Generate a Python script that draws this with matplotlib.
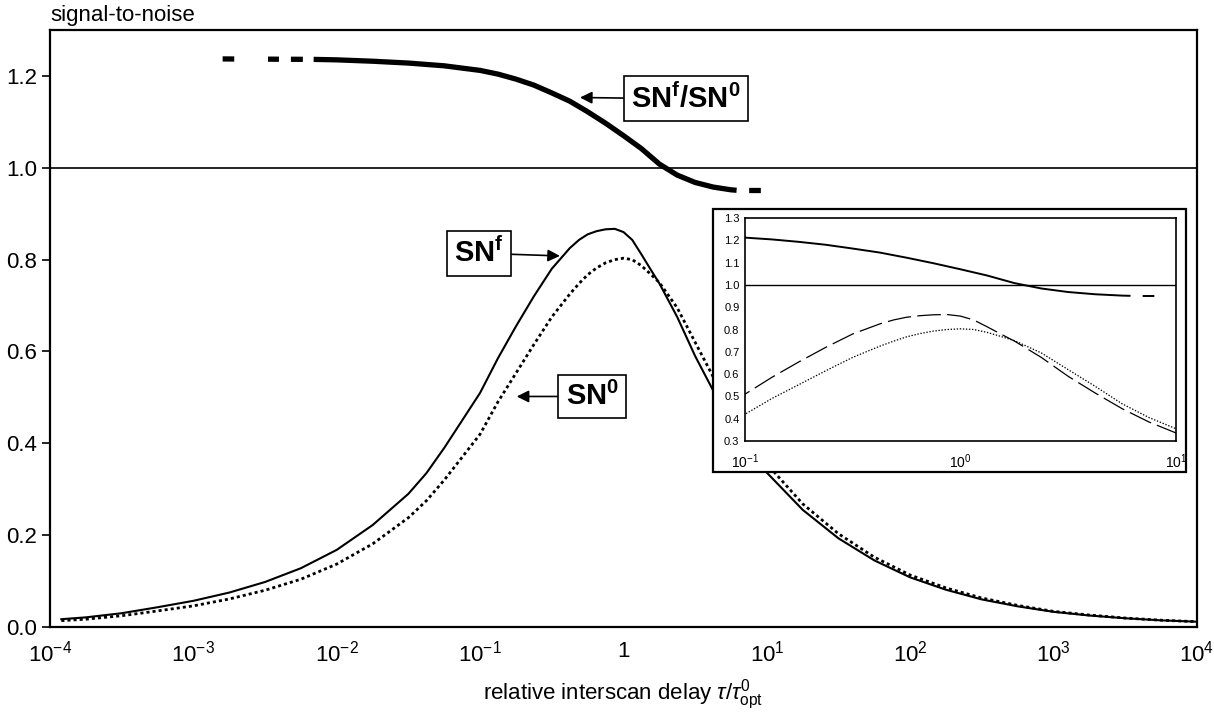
"""Signal-to-noise vs relative interscan delay, with zoomed inset around the optimum."""

import matplotlib

matplotlib.use("Agg")
import matplotlib.pyplot as plt  # noqa: E402
from matplotlib.patches import Rectangle  # noqa: E402

plt.rcParams["font.family"] = ["Liberation Sans", "DejaVu Sans"]
plt.rcParams["mathtext.fontset"] = "custom"
plt.rcParams["mathtext.rm"] = "Liberation Sans"
plt.rcParams["mathtext.it"] = "Liberation Sans:italic"
plt.rcParams["mathtext.bf"] = "Liberation Sans:bold"
plt.rcParams["lines.scale_dashes"] = False

# relative interscan delay tau / tau_opt^0
delay = [1.2e-4, 1.78e-4, 3.16e-4, 5.62e-4, 1e-3, 1.78e-3, 3.16e-3, 5.62e-3, 0.01,
         0.0178, 0.0316, 0.0422, 0.0562, 0.075, 0.1, 0.133, 0.178, 0.237, 0.316, 0.422,
         0.49, 0.562, 0.65, 0.75, 0.87, 1.0, 1.15, 1.33, 1.55, 1.78, 2.37, 3.16, 4.22,
         5.62, 7.5, 10.0, 17.8, 31.6, 56.2, 100.0, 178.0, 316.0, 562.0, 1000.0, 1780.0,
         3160.0, 5620.0, 1e4]
sn_f = [0.017, 0.021, 0.030, 0.043, 0.057, 0.075, 0.098, 0.128, 0.168,
        0.222, 0.290, 0.335, 0.390, 0.450, 0.510, 0.585, 0.655, 0.720, 0.780, 0.825,
        0.843, 0.855, 0.862, 0.866, 0.867, 0.860, 0.843, 0.812, 0.778, 0.748, 0.675,
        0.590, 0.515, 0.445, 0.385, 0.336, 0.255, 0.193, 0.145, 0.108, 0.081, 0.060,
        0.045, 0.033, 0.025, 0.019, 0.0145, 0.0115]
sn_0 = [0.0138, 0.017, 0.0245, 0.035, 0.046, 0.061, 0.080, 0.104, 0.137,
        0.181, 0.238, 0.275, 0.320, 0.370, 0.420, 0.490, 0.553, 0.615, 0.675, 0.725,
        0.748, 0.767, 0.782, 0.793, 0.800, 0.803, 0.800, 0.787, 0.768, 0.750, 0.695,
        0.620, 0.545, 0.467, 0.405, 0.355, 0.268, 0.203, 0.152, 0.113, 0.085, 0.063,
        0.047, 0.034, 0.026, 0.0195, 0.0148, 0.0116]

ratio_delay = [6.9e-3, 0.01, 0.0178, 0.0316, 0.0562, 0.1, 0.133, 0.178, 0.237, 0.316,
               0.422, 0.562, 0.75, 1.0, 1.33, 1.78, 2.37, 3.16, 4.22, 5.62, 6.15]
ratio = [1.236, 1.235, 1.232, 1.228, 1.222, 1.212, 1.204, 1.193, 1.180, 1.163,
         1.145, 1.122, 1.097, 1.070, 1.042, 1.008, 0.984, 0.968, 0.958, 0.952, 0.951]
ratio_lead_delay = [1.6e-3, 6.9e-3]
ratio_lead = [1.237, 1.236]
ratio_tail_delay = [6.15, 9.1]
ratio_tail = [0.951, 0.951]

xtick_vals = [1e-4, 1e-3, 1e-2, 1e-1, 1, 1e1, 1e2, 1e3, 1e4]
xtick_labels = [r"$10^{-4}$", r"$10^{-3}$", r"$10^{-2}$", r"$10^{-1}$", "1",
                r"$10^{1}$", r"$10^{2}$", r"$10^{3}$", r"$10^{4}$"]
ytick_vals = [0.0, 0.2, 0.4, 0.6, 0.8, 1.0, 1.2]
inset_xticks = [0.1, 1, 10]
inset_xlabels = [r"$10^{-1}$", r"$10^{0}$", r"$10^{1}$"]
inset_yticks = [0.3, 0.4, 0.5, 0.6, 0.7, 0.8, 0.9, 1.0, 1.1, 1.2, 1.3]

W, H = 1214, 716
fig = plt.figure(figsize=(W / 100, H / 100), dpi=100)
ax = fig.add_axes([50 / W, 1 - 627 / H, 1147 / W, 597 / H])

ax.plot(delay, sn_f, color="black", lw=1.5, zorder=3)
ax.plot(delay, sn_0, color="black", lw=2.0, dashes=(2.2, 2.2), zorder=3)
ax.plot(ratio_delay, ratio, color="black", lw=3.8, solid_capstyle="butt", zorder=3)
ax.plot(ratio_lead_delay, ratio_lead, color="black", lw=3.8,
        dashes=(8.35, 24.3, 7.9, 8.6, 8.6, 7.9), dash_capstyle="butt", zorder=3)
ax.plot(ratio_tail_delay, ratio_tail, color="black", lw=3.8,
        linestyle=(9.4, (8.4, 9.4)), dash_capstyle="butt", zorder=3)
ax.axhline(1.0, color="black", lw=1.2, zorder=2)

ax.set_xscale("log")
ax.set_xlim(1e-4, 1e4)
ax.set_ylim(0, 1.3)
ax.set_xticks(xtick_vals)
ax.set_xticklabels(xtick_labels)
ax.minorticks_off()
ax.set_yticks(ytick_vals)
ax.set_yticklabels([f"{v:.1f}" for v in ytick_vals])
ax.tick_params(axis="x", length=0, pad=10, labelsize=16)
ax.tick_params(axis="y", length=6, width=1.2, pad=3, labelsize=16)
for s in ax.spines.values():
    s.set_linewidth(1.6)

fig.text(50 / W, 1 - 15 / H, "signal-to-noise", ha="left", va="center", fontsize=16)
fig.text(623 / W, 1 - 695 / H, r"relative interscan delay $\tau/\tau^{0}_{\mathrm{opt}}$",
         ha="center", va="center", fontsize=16)

box = dict(boxstyle="square,pad=0.25", fc="white", ec="black", lw=1.2)
arrow = dict(arrowstyle="-|>", color="black", lw=1.2, mutation_scale=18,
             shrinkA=0, shrinkB=0)
ax.annotate(r"$\mathbf{SN^{f}/SN^{0}}$", xy=(0.497, 1.153), xytext=(2.72, 1.150),
            ha="center", va="center", fontsize=21, bbox=box, arrowprops=arrow, zorder=5)
ax.annotate(r"$\mathbf{SN^{f}}$", xy=(0.36, 0.808), xytext=(0.0986, 0.814),
            ha="center", va="center", fontsize=21, bbox=box, arrowprops=arrow, zorder=5)
ax.annotate(r"$\mathbf{SN^{0}}$", xy=(0.18, 0.502), xytext=(0.605, 0.502),
            ha="center", va="center", fontsize=21, bbox=box, arrowprops=arrow, zorder=5)

# white frame behind the inset
ax.add_patch(Rectangle((713 / W, 1 - 472 / H), 473 / W, 263 / H, transform=fig.transFigure,
                       fc="white", ec="black", lw=1.6, clip_on=False, zorder=10))

ins = fig.add_axes([745 / W, 1 - 441 / H, 431 / W, 223 / H])
ins.plot(delay, sn_f, color="black", lw=0.9, dashes=(17, 4.5))
ins.plot(delay, sn_0, color="black", lw=0.9, dashes=(1, 1.2))
ins.plot(ratio_delay, ratio, color="black", lw=1.4, solid_capstyle="butt")
ins.plot(ratio_tail_delay, ratio_tail, color="black", lw=1.4,
         linestyle=(9.4, (8.4, 9.4)), dash_capstyle="butt")
ins.axhline(1.0, color="black", lw=1.0)
ins.set_xscale("log")
ins.set_xlim(0.1, 10)
ins.set_ylim(0.3, 1.3)
ins.set_xticks(inset_xticks)
ins.set_xticklabels(inset_xlabels)
ins.minorticks_off()
ins.set_yticks(inset_yticks)
ins.set_yticklabels([f"{v:.1f}" for v in inset_yticks])
ins.tick_params(length=0, labelsize=8, pad=4)
ins.tick_params(axis="x", pad=8, labelsize=10)
for s in ins.spines.values():
    s.set_linewidth(1.2)

fig.savefig("out.png", dpi=100)
